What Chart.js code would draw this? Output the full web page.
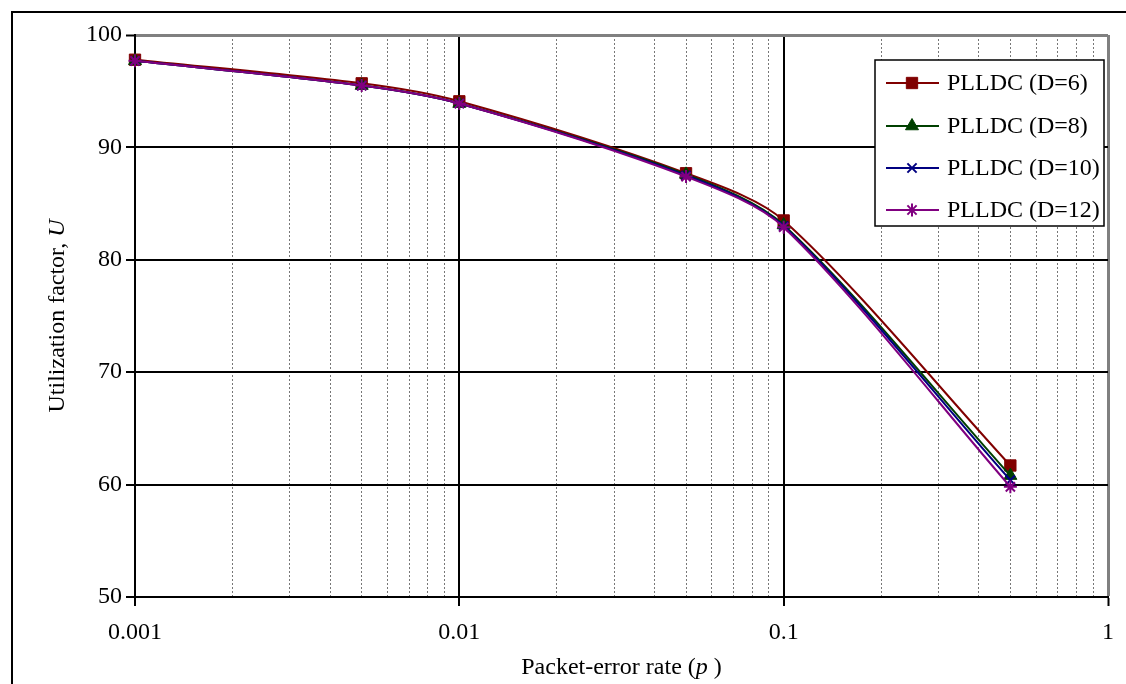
<!DOCTYPE html>
<html>
<head>
<meta charset="utf-8">
<script src="https://cdn.jsdelivr.net/npm/chart.js@4.4.0/dist/chart.umd.min.js"></script>
<style>
  html, body { margin: 0; padding: 0; background: #fff; }
  #wrap { width: 1126px; height: 684px; position: relative; }
</style>
</head>
<body>
<div id="wrap"><canvas id="chart" width="1126" height="684"></canvas></div>
<script>
// packet-error rates where the series were sampled
const errorRates = [0.001, 0.005, 0.01, 0.05, 0.1, 0.5];

// utilization factor U per delay D
const uD6  = [97.8, 95.7, 94.1, 87.7, 83.5, 61.7];
const uD8  = [97.7, 95.5, 93.9, 87.6, 83.1, 60.8];
const uD10 = [97.7, 95.5, 93.9, 87.5, 83.0, 60.4];
const uD12 = [97.7, 95.5, 93.9, 87.4, 82.9, 59.8];

const seriesLabels = ["PLLDC (D=6)", "PLLDC (D=8)", "PLLDC (D=10)", "PLLDC (D=12)"];
const xTickLabels = ["0.001", "0.01", "0.1", "1"];
const yTicks = [50, 60, 70, 80, 90, 100];

const FONT = "'Liberation Serif', 'Times New Roman', serif";

function pts(values) {
    return errorRates.map((x, i) => ({ x: x, y: values[i] }));
}

function isDecade(v) {
    const l = Math.log10(v);
    return Math.abs(l - Math.round(l)) < 1e-9;
}

function makeSet(label, data, color, style, radius, order) {
    return {
        label: label,
        data: pts(data),
        borderColor: color,
        backgroundColor: color,
        pointBackgroundColor: color,
        pointBorderColor: color,
        pointStyle: style,
        pointRadius: radius,
        pointBorderWidth: style === 'crossRot' || style === 'star' ? 2 : 1,
        borderWidth: 2,
        tension: 0.3,
        clip: false,
        order: order
    };
}

const datasets = [
    makeSet(seriesLabels[0], uD6, '#800000', 'rect', 8, 4),
    makeSet(seriesLabels[1], uD8, '#004000', 'triangle', 7.5, 3),
    makeSet(seriesLabels[2], uD10, '#000080', 'crossRot', 6.5, 2),
    makeSet(seriesLabels[3], uD12, '#800080', 'star', 6.5, 1)
];

// outer frame, axis titles with italic bits, and the boxed legend
const decorations = {
    id: 'decorations',
    afterDraw: function(chart) {
        const ctx = chart.ctx;
        const area = chart.chartArea;
        ctx.save();

        ctx.strokeStyle = '#000';
        ctx.lineWidth = 2;
        ctx.strokeRect(12, 12, 1200, 800);

        // x title
        const partsX = [["Packet-error rate (", "normal"], ["p", "italic"], [" )", "normal"]];
        drawParts(ctx, partsX, (area.left + area.right) / 2, 668, 0);

        // y title
        const partsY = [["Utilization factor, ", "normal"], ["U", "italic"]];
        drawParts(ctx, partsY, 58, (area.top + area.bottom) / 2, -Math.PI / 2);

        // legend
        const bx = 875, by = 60, bw = 229, bh = 166;
        ctx.fillStyle = '#fff';
        ctx.fillRect(bx, by, bw, bh);
        ctx.strokeStyle = '#000';
        ctx.lineWidth = 1.5;
        ctx.strokeRect(bx, by, bw, bh);
        const rows = [83, 126, 168, 210];
        chart.data.datasets.forEach((ds, i) => {
            const y = rows[i];
            ctx.strokeStyle = ds.borderColor;
            ctx.lineWidth = 2;
            ctx.beginPath();
            ctx.moveTo(886, y);
            ctx.lineTo(939, y);
            ctx.stroke();
            ctx.fillStyle = ds.pointBackgroundColor;
            ctx.strokeStyle = ds.pointBorderColor;
            ctx.lineWidth = ds.pointBorderWidth;
            Chart.helpers.drawPoint(ctx, { pointStyle: ds.pointStyle, radius: ds.pointRadius, rotation: 0, borderWidth: ds.pointBorderWidth }, 912, y);
            ctx.fillStyle = '#000';
            ctx.font = "24px " + FONT;
            ctx.textAlign = 'left';
            ctx.textBaseline = 'middle';
            ctx.fillText(ds.label, 947, y + 1);
        });
        ctx.restore();
    }
};

function drawParts(ctx, parts, cx, cy, rot) {
    ctx.save();
    ctx.translate(cx, cy);
    ctx.rotate(rot);
    ctx.fillStyle = '#000';
    ctx.textBaseline = 'middle';
    ctx.textAlign = 'left';
    let total = 0;
    parts.forEach(p => {
        ctx.font = (p[1] === 'italic' ? 'italic ' : '') + "24px " + FONT;
        total += ctx.measureText(p[0]).width;
    });
    let x = -total / 2;
    parts.forEach(p => {
        ctx.font = (p[1] === 'italic' ? 'italic ' : '') + "24px " + FONT;
        ctx.fillText(p[0], x, 0);
        x += ctx.measureText(p[0]).width;
    });
    ctx.restore();
}

new Chart(document.getElementById('chart'), {
    type: 'line',
    data: { datasets: datasets },
    options: {
        responsive: false,
        animation: false,
        events: [],
        layout: { padding: { top: 35, right: 17, left: 0, bottom: 0 } },
        plugins: {
            legend: { display: false },
            tooltip: { enabled: false }
        },
        scales: {
            x: {
                type: 'logarithmic',
                min: 0.001,
                max: 1,
                afterBuildTicks: function(scale) {
                    const ticks = [];
                    for (let e = -3; e <= 0; e++) {
                        for (let k = 1; k <= 9; k++) {
                            const v = Number((k * Math.pow(10, e)).toPrecision(6));
                            if (v > 1) break;
                            ticks.push({ value: v });
                        }
                    }
                    scale.ticks = ticks;
                },
                afterFit: function(scale) { scale.height = 87; },
                ticks: {
                    autoSkip: false,
                    maxRotation: 0,
                    color: '#000',
                    padding: 12,
                    font: { family: FONT, size: 24 },
                    callback: function(value) {
                        if (!isDecade(value)) return '';
                        return xTickLabels[Math.round(Math.log10(value)) + 3];
                    }
                },
                grid: {
                    color: ctx => {
                        const v = ctx.tick.value;
                        if (Math.abs(v - 1) < 1e-9) return '#808080';
                        return isDecade(v) ? '#000' : '#777';
                    },
                    lineWidth: ctx => {
                        const v = ctx.tick.value;
                        if (Math.abs(v - 1) < 1e-9) return 3;
                        return isDecade(v) ? 2 : 1;
                    },
                    tickColor: ctx => isDecade(ctx.tick.value) ? '#000' : 'rgba(0,0,0,0)',
                    tickWidth: 2,
                    tickLength: 9
                },
                border: {
                    color: '#000',
                    width: 2,
                    dash: ctx => (ctx.tick && !isDecade(ctx.tick.value)) ? [2, 2] : []
                }
            },
            y: {
                min: 50,
                max: 100,
                afterBuildTicks: function(scale) {
                    scale.ticks = yTicks.map(v => ({ value: v }));
                },
                afterFit: function(scale) { scale.width = 135; },
                ticks: {
                    color: '#000',
                    padding: 4,
                    font: { family: FONT, size: 24 }
                },
                grid: {
                    color: ctx => ctx.tick.value === 100 ? '#808080' : '#000',
                    lineWidth: ctx => ctx.tick.value === 100 ? 3 : 2,
                    tickColor: '#000',
                    tickWidth: 2,
                    tickLength: 9
                },
                border: { color: '#000', width: 2 }
            }
        }
    },
    plugins: [decorations]
});
</script>
</body>
</html>
